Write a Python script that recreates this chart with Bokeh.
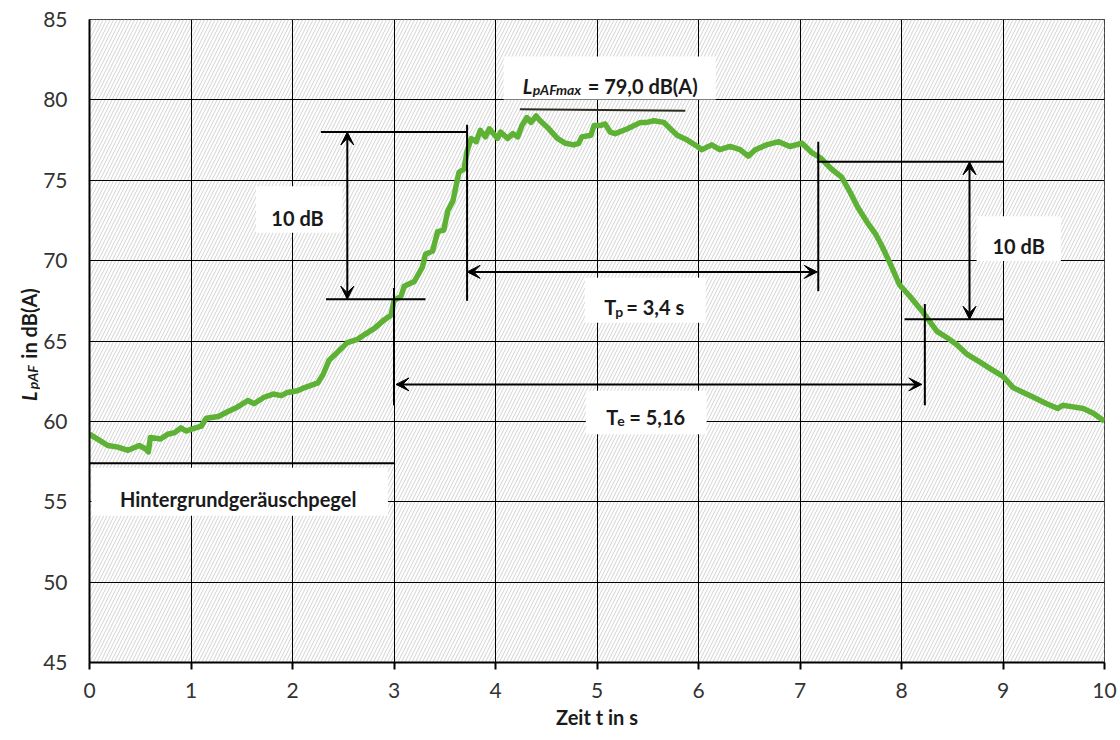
import math
from bokeh.plotting import figure
from bokeh.layouts import row
from bokeh.models import Range1d, FixedTicker, Arrow, VeeHead
from bokeh.core.properties import value
from bokeh.embed import file_html
from bokeh.resources import INLINE

# ---- data -------------------------------------------------------------
time_s = [0.00, 0.08, 0.18, 0.28, 0.38, 0.49, 0.55, 0.58, 0.60, 0.70, 0.77, 0.84,
          0.90, 0.95, 1.00, 1.10, 1.15, 1.27, 1.36, 1.46, 1.56, 1.62, 1.72, 1.81,
          1.89, 1.95, 2.05, 2.12, 2.25, 2.30, 2.36, 2.41, 2.54, 2.64, 2.71, 2.81,
          2.90, 2.97, 3.00, 3.07, 3.10, 3.20, 3.28, 3.31, 3.38, 3.43, 3.49, 3.53,
          3.58, 3.60, 3.64, 3.69, 3.72, 3.76, 3.81, 3.85, 3.90, 3.94, 4.02, 4.05,
          4.12, 4.17, 4.22, 4.26, 4.31, 4.35, 4.40, 4.44, 4.51, 4.61, 4.69, 4.77,
          4.82, 4.85, 4.94, 4.97, 5.03, 5.08, 5.13, 5.18, 5.30, 5.43, 5.49, 5.56,
          5.66, 5.69, 5.79, 5.89, 5.99, 6.03, 6.13, 6.21, 6.31, 6.41, 6.49, 6.56,
          6.67, 6.79, 6.90, 7.02, 7.12, 7.20, 7.31, 7.41, 7.49, 7.57, 7.66, 7.74,
          7.80, 7.89, 7.98, 8.08, 8.21, 8.35, 8.45, 8.54, 8.64, 8.77, 8.87, 9.00,
          9.10, 9.20, 9.30, 9.43, 9.54, 9.59, 9.69, 9.79, 9.89, 10.00]
level_db = [59.2, 58.9, 58.5, 58.4, 58.2, 58.5, 58.3, 58.1, 59.0, 58.9, 59.2, 59.3,
            59.6, 59.4, 59.5, 59.7, 60.2, 60.3, 60.6, 60.9, 61.3, 61.1, 61.5, 61.7,
            61.6, 61.8, 61.9, 62.1, 62.4, 62.9, 63.8, 64.1, 64.9, 65.1, 65.4, 65.8,
            66.3, 66.6, 67.5, 67.8, 68.4, 68.7, 69.6, 70.4, 70.6, 71.8, 71.9, 73.1,
            73.7, 74.3, 75.5, 75.7, 76.8, 77.6, 77.4, 78.1, 77.7, 78.2, 77.6, 78.0,
            77.6, 77.9, 77.7, 78.4, 78.9, 78.6, 79.0, 78.7, 78.3, 77.6, 77.3, 77.2,
            77.3, 77.7, 77.8, 78.4, 78.4, 78.5, 78.0, 77.9, 78.2, 78.6, 78.6, 78.7,
            78.6, 78.4, 77.8, 77.5, 77.1, 76.9, 77.2, 76.9, 77.1, 76.9, 76.5, 76.9,
            77.2, 77.4, 77.1, 77.3, 76.7, 76.4, 75.7, 75.2, 74.3, 73.3, 72.4, 71.7,
            71.0, 69.8, 68.5, 67.8, 66.8, 65.6, 65.2, 64.8, 64.2, 63.7, 63.3, 62.8,
            62.1, 61.8, 61.5, 61.1, 60.8, 61.0, 60.9, 60.8, 60.5, 60.0]

x_ticks = [0, 1, 2, 3, 4, 5, 6, 7, 8, 9, 10]
y_ticks = [45, 50, 55, 60, 65, 70, 75, 80, 85]
x_range = (0, 10)
y_range = (45, 85)

# annotation values
background_level = 57.4
background_end = 3.0
lmax_line = [(4.24, 79.42), (5.87, 79.32)]
rise_top, rise_bottom = 78.0, 67.6           # left 10 dB
fall_top, fall_bottom = 76.15, 66.35         # right 10 dB
t_rise_10, t_rise_start = 3.72, 3.0
t_fall_10, t_fall_end = 7.18, 8.23
tp_level, te_level = 69.3, 62.3

FONT = "Lato"
TXT = "#1a1a1a"
TICK_TXT = "#333333"
GREEN = "#5DB235"

LABEL_W = 40
yr = Range1d(*y_range)
p = figure(width=1120 - LABEL_W, height=740, output_backend="svg", toolbar_location=None,
           x_range=Range1d(*x_range), y_range=yr,
           min_border_left=88 - LABEL_W, min_border_right=16, min_border_top=19,
           min_border_bottom=78)
p.background_fill_color = "white"
p.border_fill_color = "white"
p.outline_line_color = "black"
p.outline_line_width = 1

# hatched plot area
p.quad(left=[x_range[0]], right=[x_range[1]], bottom=[y_range[0]], top=[y_range[1]],
       fill_color="white", line_color=None, hatch_pattern="/", hatch_color="#d2d2d2",
       hatch_scale=7, hatch_weight=1, level="image")

# axes
p.xaxis.ticker = FixedTicker(ticks=x_ticks)
p.yaxis.ticker = FixedTicker(ticks=y_ticks)
for ax in (p.xaxis, p.yaxis):
    ax.axis_line_color = "black"
    ax.axis_line_width = 2
    ax.major_tick_line_color = "black"
    ax.major_tick_line_width = 2
    ax.minor_tick_line_color = None
    ax.major_label_text_font = FONT
    ax.major_label_text_font_size = "21px"
    ax.major_label_text_color = TICK_TXT
p.xaxis.major_tick_in = 0
p.xaxis.major_tick_out = 7
p.xaxis.major_label_standoff = 13
p.yaxis.major_tick_in = 0
p.yaxis.major_tick_out = 0
p.yaxis.major_label_standoff = 22
p.xaxis.axis_label = "Zeit t in s"
p.xaxis.axis_label_text_font = FONT
p.xaxis.axis_label_text_font_style = "bold"
p.xaxis.axis_label_text_font_size = "20px"
p.xaxis.axis_label_text_color = TXT
p.xaxis.axis_label_standoff = 4

for g in (p.xgrid, p.ygrid):
    g.grid_line_color = "black"
    g.grid_line_width = 1
    g.grid_line_alpha = 1.0
p.xgrid.ticker = FixedTicker(ticks=x_ticks)
p.ygrid.ticker = FixedTicker(ticks=y_ticks)

# measured curve
p.line(time_s, level_db, line_color=GREEN, line_width=5.5, line_join="round")

# white label boxes
boxes_left = [4.08, 1.64, 8.74, 4.88, 4.89, 0.02]
boxes_right = [6.17, 2.49, 9.57, 6.07, 6.08, 2.94]
boxes_bottom = [80.03, 71.73, 69.97, 66.14, 59.2, 54.13]
boxes_top = [82.7, 74.63, 72.76, 68.93, 61.9, 57.11]
p.quad(left=boxes_left, right=boxes_right, bottom=boxes_bottom, top=boxes_top,
       fill_color="white", line_color=None)

# annotation lines
BL = "black"
p.segment(x0=[0.0], y0=[background_level], x1=[background_end], y1=[background_level],
          line_color=BL, line_width=2)
p.segment(x0=[lmax_line[0][0]], y0=[lmax_line[0][1]], x1=[lmax_line[1][0]], y1=[lmax_line[1][1]],
          line_color="#2e2a22", line_width=2)
# left 10 dB
p.segment(x0=[2.28, 2.33], y0=[rise_top, rise_bottom], x1=[3.72, 3.31], y1=[rise_top, rise_bottom],
          line_color=BL, line_width=2)
# right 10 dB
p.segment(x0=[7.17, 8.03], y0=[fall_top, fall_bottom], x1=[9.0, 9.0], y1=[fall_top, fall_bottom],
          line_color=BL, line_width=2)
# vertical markers
p.segment(x0=[t_rise_10, t_rise_start, t_fall_10, t_fall_end],
          y0=[78.45, 68.3, 77.4, 67.3],
          x1=[t_rise_10, t_rise_start, t_fall_10, t_fall_end],
          y1=[67.5, 61.0, 68.1, 61.0], line_color=BL, line_width=2)

def dbl_arrow(x0, y0, x1, y1):
    p.add_layout(Arrow(x_start=x0, y_start=y0, x_end=x1, y_end=y1,
                       line_color=BL, line_width=2,
                       start=VeeHead(size=13, fill_color=BL, line_color=BL, line_width=1),
                       end=VeeHead(size=13, fill_color=BL, line_color=BL, line_width=1)))

dbl_arrow(2.54, rise_bottom, 2.54, rise_top)
dbl_arrow(8.67, fall_bottom, 8.67, fall_top)
dbl_arrow(t_rise_10, tp_level, t_fall_10 - 0.01, tp_level)
dbl_arrow(t_rise_start + 0.02, te_level, t_fall_end - 0.03, te_level)

# texts
def txt(fig, x, y, s, size=20, style="bold", dx=0, dy=0, align="left", angle=0.0):
    fig.text(x=[x], y=[y], text=[s], text_font=value(FONT), text_font_size=value(f"{size}px"),
             text_font_style=value(style), text_color=TXT, text_align=value(align),
             text_baseline=value("alphabetic"), x_offset=dx, y_offset=dy, angle=angle)

txt(p, 1.465, 55.17, "Hintergrundgeräuschpegel", align="center")
txt(p, 2.05, 72.66, "10 dB", align="center")
txt(p, 9.155, 70.9, "10 dB", align="center")
# T_p = 3,4 s
tp_x, tp_y = 5.475, 67.11
txt(p, tp_x, tp_y, "T", dx=-41)
txt(p, tp_x, tp_y, "p", size=14, dx=-30, dy=4)
txt(p, tp_x, tp_y, "= 3,4 s", dx=-19)
# T_e = 5,16
te_x, te_y = 5.485, 60.3
txt(p, te_x, te_y, "T", dx=-40)
txt(p, te_x, te_y, "e", size=14, dx=-29, dy=4)
txt(p, te_x, te_y, "= 5,16", dx=-17)
# L_pAFmax = 79,0 dB(A)
lm_x, lm_y = 5.125, 80.84
txt(p, lm_x, lm_y, "L", style="bold italic", dx=-87)
txt(p, lm_x, lm_y, "pAFmax", size=14, style="bold italic", dx=-77, dy=3)
txt(p, lm_x, lm_y, "= 79,0 dB(A)", dx=-22)

# ---- y axis title panel (rotated, composed text); its frame aligns with p ----
lab = figure(width=LABEL_W, height=740, output_backend="svg",
             toolbar_location=None, title_location=None,
             x_range=Range1d(0, LABEL_W), y_range=yr,
             x_axis_location=None, y_axis_location=None, min_border=0)
lab.outline_line_color = None
lab.grid.visible = False
lab.background_fill_color = "white"
lab.border_fill_color = "white"
rot = math.pi / 2
txt(lab, 28, 61.27, "L", size=20, style="bold italic", angle=rot)
txt(lab, 32, 62.0, "pAF", size=14, style="bold italic", angle=rot)
txt(lab, 28, 63.9, "in dB(A)", size=20, style="bold", angle=rot)

layout = row(lab, p, spacing=0)
open("out.html", "w").write(file_html(layout, INLINE))
